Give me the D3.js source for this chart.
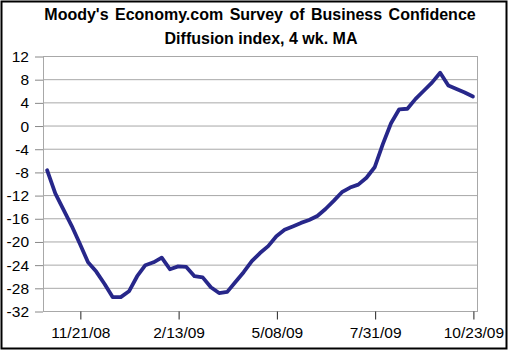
<!DOCTYPE html>
<html><head><meta charset="utf-8">
<script src="https://cdn.jsdelivr.net/npm/d3@7"></script>
<style>
html,body{margin:0;padding:0;background:#fff;}
svg{display:block;}
text{font-family:"Liberation Sans",Arial,sans-serif;}
</style></head>
<body>
<svg id="c" width="510" height="352"></svg>
<script>
const titleLines = ["Moody's Economy.com Survey of Business Confidence", "Diffusion index, 4 wk. MA"];
const weeks = ["10/24/08","10/31/08","11/07/08","11/14/08","11/21/08","11/28/08","12/05/08","12/12/08","12/19/08","12/26/08",
  "1/02/09","1/09/09","1/16/09","1/23/09","1/30/09","2/06/09","2/13/09",
  "2/20/09","2/27/09","3/06/09","3/13/09","3/20/09","3/27/09","4/03/09","4/10/09","4/17/09","4/24/09","5/01/09","5/08/09",
  "5/15/09","5/22/09","5/29/09","6/05/09","6/12/09","6/19/09","6/26/09","7/03/09","7/10/09","7/17/09","7/24/09","7/31/09",
  "8/07/09","8/14/09","8/21/09","8/28/09","9/04/09","9/11/09","9/18/09","9/25/09","10/02/09","10/09/09","10/16/09","10/23/09"];
const values = [-7.7,-11.7,-14.5,-17.3,-20.4,-23.6,-25.2,-27.3,-29.6,-29.6,
  -28.6,-26.0,-24.1,-23.6,-22.8,-24.8,-24.3,
  -24.4,-26.0,-26.2,-27.9,-28.9,-28.7,-27.0,-25.3,-23.4,-22.0,-20.8,-19.1,
  -18.0,-17.4,-16.8,-16.3,-15.6,-14.4,-13.0,-11.5,-10.7,-10.2,-9.0,-7.2,
  -3.2,0.4,2.8,2.9,4.6,6.0,7.4,9.1,6.9,6.3,5.7,5.0];
const xTickLabels = ["11/21/08","2/13/09","5/08/09","7/31/09","10/23/09"];
const yTicks = [-32,-28,-24,-20,-16,-12,-8,-4,0,4,8,12];

const svg = d3.select("#c");
const L = 43, R = 477, T = 56, B = 311;
const x = d3.scalePoint().domain(weeks).range([L, R]).padding(0.5);
const y = d3.scaleLinear().domain([-32, 12]).range([B, T]);

// outer border
svg.append("rect").attr("x",1.5).attr("y",1.5).attr("width",505).attr("height",347)
  .attr("fill","#fff").attr("stroke","#000").attr("stroke-width",2);

// title
svg.append("text").attr("x",260).attr("y",20).attr("text-anchor","middle")
  .attr("font-size",16).attr("font-weight","bold").attr("word-spacing",2).text(titleLines[0]);
svg.append("text").attr("x",261).attr("y",44).attr("text-anchor","middle")
  .attr("font-size",16).attr("font-weight","bold").text(titleLines[1]);

// gridlines
svg.append("g").selectAll("line").data(yTicks).join("line")
  .attr("x1",L).attr("x2",R).attr("y1",d=>y(d)+0.5).attr("y2",d=>y(d)+0.5)
  .attr("stroke","#a8a8a8").attr("stroke-width",1);

// plot border
svg.append("rect").attr("x",L+0.5).attr("y",T+0.5).attr("width",R-L).attr("height",B-T)
  .attr("fill","none").attr("stroke","#a8a8a8").attr("stroke-width",1);

// y axis
const ya = svg.append("g").attr("transform",`translate(${L},0.5)`)
  .call(d3.axisLeft(y).tickValues(yTicks).tickSize(8).tickPadding(6).tickFormat(d3.format("d")));
ya.select(".domain").remove();
ya.selectAll(".tick line").attr("stroke","#888");
ya.selectAll(".tick text").attr("font-size",15.5).attr("fill","#000")
  .attr("font-family","'Liberation Sans',Arial,sans-serif").text(d=>d<0?"-"+Math.abs(d):d);

// x axis
const xa = svg.append("g").attr("transform",`translate(0.5,${B+0.5})`)
  .call(d3.axisBottom(x).tickValues(xTickLabels).tickSize(8).tickPadding(7));
xa.select(".domain").remove();
xa.selectAll(".tick line").attr("stroke","#222");
xa.selectAll(".tick text").attr("font-size",15.5).attr("fill","#000")
  .attr("font-family","'Liberation Sans',Arial,sans-serif");

// line
svg.append("path").datum(values)
  .attr("fill","none").attr("stroke","#27278a").attr("stroke-width",3.8)
  .attr("stroke-linejoin","round").attr("stroke-linecap","round")
  .attr("d", d3.line().x((d,i)=>x(weeks[i])).y(d=>y(d)));
</script>
</body></html>
